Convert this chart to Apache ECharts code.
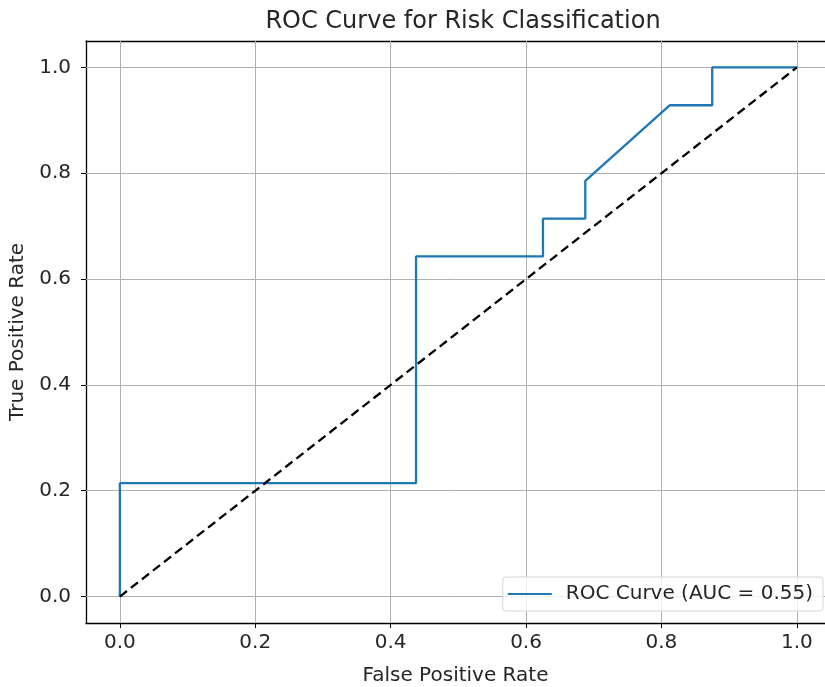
<!DOCTYPE html>
<html lang="en">
  <head>
    <meta charset="UTF-8" />
    <title>ROC Curve for Risk Classification</title>
    <script src="https://cdn.jsdelivr.net/npm/echarts@6/dist/echarts.min.js"></script>
    <style>
      body { margin: 0; background: #fff; }
      #chart { width: 825px; height: 687px; }
    </style>
  </head>
  <body>
    <div id="chart"></div>
    <script>
      // ROC points
      const fpr = [0, 0, 0.4375, 0.4375, 0.625, 0.625, 0.6875, 0.6875, 0.8125, 0.875, 0.875, 1];
      const tpr = [0, 0.2143, 0.2143, 0.6429, 0.6429, 0.7143, 0.7143, 0.7857, 0.9286, 0.9286, 1, 1];
      const diagonal = [[0, 0], [1, 1]];
      const ticks = [0, 0.2, 0.4, 0.6, 0.8, 1.0];
      const aucLabel = "ROC Curve (AUC = 0.55)";

      const font = "DejaVu Sans";
      const txt = "#262626";
      const fs = 20;
      const chart = echarts.init(document.getElementById("chart"), null, { renderer: "canvas" });

      // gridlines through the axis scales
      const gridLines = [];
      ticks.forEach(function (t) {
        gridLines.push({ xAxis: t });
        gridLines.push({ yAxis: t });
      });

      function labelStyle(margin) {
        return {
          customValues: ticks,
          margin: margin,
          fontFamily: font,
          fontSize: fs,
          color: txt,
          formatter: function (v) { return v.toFixed(1); }
        };
      }

      const spine = { show: true, onZero: false, lineStyle: { color: "#000", width: 1.3 } };
      const tick = { show: true, customValues: ticks, length: 5, lineStyle: { color: "#000", width: 1 } };

      chart.setOption({
        animation: false,
        title: {
          text: "ROC Curve for Risk Classification",
          left: 458,
          textAlign: "center",
          top: 5,
          textStyle: { fontFamily: font, fontSize: 24, fontWeight: "normal", color: txt }
        },
        grid: { left: 86, top: 41, right: 0, height: 582, containLabel: false, outerBoundsMode: "none" },
        xAxis: [
          {
            type: "value",
            min: -0.05,
            max: 1.0416,
            name: "False Positive Rate",
            nameLocation: "middle",
            nameGap: 43,
            nameTextStyle: { fontFamily: font, fontSize: fs, color: txt },
            axisLine: spine,
            axisTick: tick,
            axisLabel: labelStyle(10),
            splitLine: { show: false }
          },
          {
            type: "value",
            position: "top",
            min: -0.05,
            max: 1.0416,
            axisLine: spine,
            axisTick: { show: false },
            axisLabel: { show: false },
            splitLine: { show: false }
          }
        ],
        yAxis: {
          type: "value",
          min: -0.05,
          max: 1.05,
          name: "True Positive Rate",
          nameLocation: "middle",
          nameGap: 58,
          nameRotate: 90,
          nameTextStyle: { fontFamily: font, fontSize: fs, color: txt },
          axisLine: spine,
          axisTick: tick,
          axisLabel: labelStyle(15),
          splitLine: { show: false }
        },
        legend: {
          right: 2,
          top: 577,
          data: [aucLabel],
          icon: "rect",
          itemWidth: 44,
          itemHeight: 2,
          padding: [7, 10, 7, 5],
          backgroundColor: "rgba(255,255,255,0.8)",
          borderColor: "#d5d5d5",
          borderWidth: 1,
          borderRadius: 3,
          z: 10,
          textStyle: { fontFamily: font, fontSize: fs, color: txt, padding: [0, 0, 0, 9] }
        },
        series: [
          {
            name: "grid",
            type: "line",
            data: [],
            silent: true,
            z: 1,
            markLine: {
              symbol: "none",
              silent: true,
              z: 1,
              label: { show: false },
              lineStyle: { color: "#b0b0b0", width: 1, type: "solid" },
              data: gridLines
            }
          },
          {
            name: aucLabel,
            type: "line",
            data: fpr.map(function (x, i) { return [x, tpr[i]]; }),
            showSymbol: false,
            clip: false,
            color: "#1f77b4",
            lineStyle: { color: "#1f77b4", width: 2.3 },
            z: 5
          },
          {
            name: "chance",
            type: "line",
            data: diagonal,
            showSymbol: false,
            lineStyle: { color: "#000", width: 2.3, type: [9, 5] },
            z: 6
          }
        ]
      });
    </script>
  </body>
</html>
